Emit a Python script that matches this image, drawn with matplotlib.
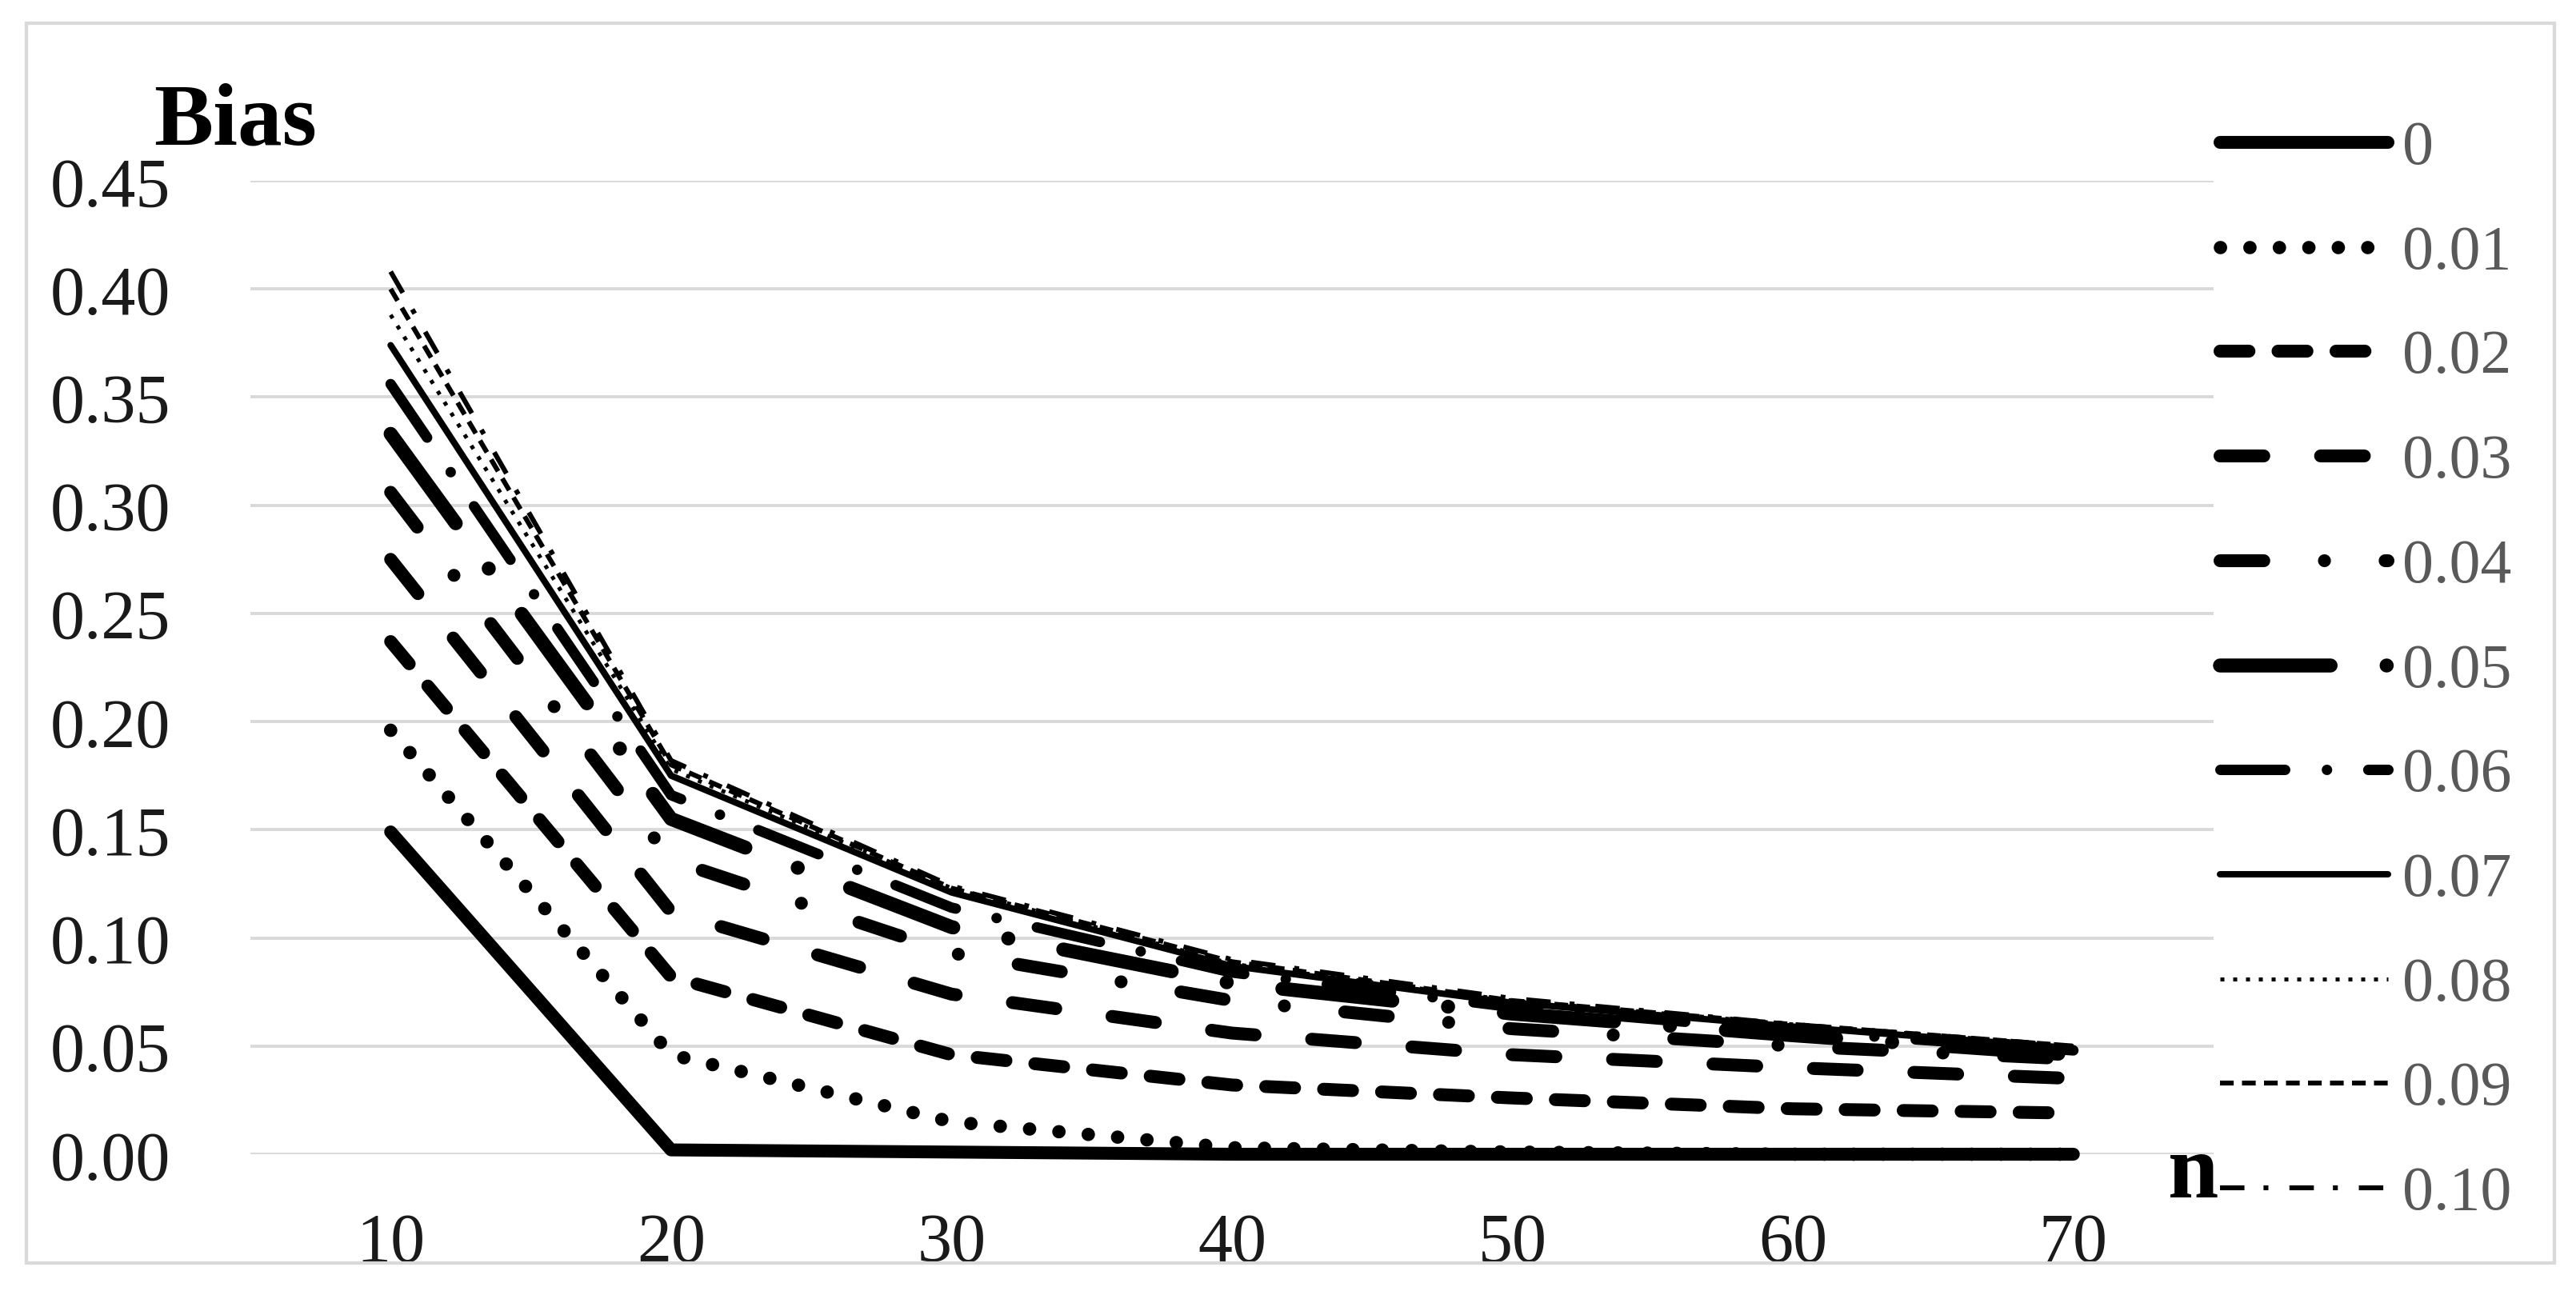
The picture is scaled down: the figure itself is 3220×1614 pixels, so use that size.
import numpy as np
import matplotlib
matplotlib.use("Agg")
import matplotlib.pyplot as plt
from matplotlib.lines import Line2D
from matplotlib.patches import Rectangle

plt.rcParams['font.family'] = ['Liberation Serif', 'DejaVu Serif']

# sample size
n_vals = [10, 20, 30, 40, 50, 60, 70]

# bias for each contamination level
bias_000 = [0.149, 0.002, 0.001, 0.000, 0.000, 0.000, 0.000]
bias_001 = [0.196, 0.046, 0.015, 0.003, 0.001, 0.000, 0.000]
bias_002 = [0.237, 0.082, 0.046, 0.032, 0.026, 0.021, 0.019]
bias_003 = [0.275, 0.112, 0.074, 0.056, 0.046, 0.040, 0.035]
bias_004 = [0.306, 0.136, 0.093, 0.071, 0.058, 0.050, 0.044]
bias_005 = [0.333, 0.155, 0.105, 0.079, 0.065, 0.055, 0.046]
bias_006 = [0.356, 0.166, 0.114, 0.084, 0.068, 0.057, 0.048]
bias_007 = [0.374, 0.175, 0.121, 0.087, 0.070, 0.059, 0.049]
bias_008 = [0.388, 0.178, 0.123, 0.088, 0.071, 0.060, 0.050]
bias_009 = [0.400, 0.180, 0.123, 0.089, 0.071, 0.060, 0.050]
bias_010 = [0.408, 0.182, 0.124, 0.090, 0.072, 0.060, 0.050]

labels = ['0', '0.01', '0.02', '0.03', '0.04', '0.05',
          '0.06', '0.07', '0.08', '0.09', '0.10']
series = [bias_000, bias_001, bias_002, bias_003, bias_004, bias_005,
          bias_006, bias_007, bias_008, bias_009, bias_010]

y_ticks = [0.00, 0.05, 0.10, 0.15, 0.20, 0.25, 0.30, 0.35, 0.40, 0.45]

# line styles: (linewidth, dashes or None, capstyle)
styles = [
    dict(lw=5.8, dashes=None, cap='round'),
    dict(lw=6.0, dashes=(0.01, 2.2), cap='round'),
    dict(lw=5.8, dashes=(2.25, 2.25), cap='round'),
    dict(lw=5.8, dashes=(3.4, 4.4), cap='round'),
    dict(lw=5.8, dashes=(3.4, 4.7, 0.01, 4.7), cap='round'),
    dict(lw=6.3, dashes=(7.9, 4.0, 0.01, 4.0), cap='round'),
    dict(lw=4.7, dashes=(6.2, 4.0, 0.01, 3.95), cap='round'),
    dict(lw=2.9, dashes=None, cap='round'),
    dict(lw=1.8, dashes=(1.0, 2.2), cap='butt'),
    dict(lw=2.2, dashes=(2.8, 1.7), cap='butt'),
    dict(lw=2.2, dashes=(5.0, 3.9, 1.0, 4.3), cap='butt'),
]

W, H = 3220, 1615
fig = plt.figure(figsize=(W / 200, H / 200), dpi=200)

# plot area in pixels
left, right, top, bottom = 313, 2767, 227, 1444
ax = fig.add_axes([left / W, 1 - bottom / H, (right - left) / W, (bottom - top) / H])


def apply_style(line, st):
    line.set_color('black')
    line.set_linewidth(st['lw'])
    line.set_solid_capstyle(st['cap'])
    line.set_dash_capstyle(st['cap'])
    line.set_solid_joinstyle('round')
    line.set_dash_joinstyle('round')
    if st['dashes'] is not None:
        line.set_dashes(st['dashes'])


for vals, st in zip(series, styles):
    ln, = ax.plot(n_vals, vals, clip_on=False, zorder=3)
    apply_style(ln, st)

ax.set_xlim(5, 75)
ax.set_ylim(0, 0.45)
ax.set_yticks(y_ticks)
ax.set_yticklabels([f'{v:.2f}' for v in y_ticks])
ax.set_xticks(n_vals)
ax.set_xticklabels([str(v) for v in n_vals])
ax.tick_params(axis='both', length=0, labelsize=31, colors='#1a1a1a')
ax.tick_params(axis='y', pad=36)
ax.tick_params(axis='x', pad=26)
ax.grid(axis='y', color='#d9d9d9', linewidth=1.4, zorder=0)
ax.grid(axis='x', visible=False)
ax.set_axisbelow(True)
for sp in ax.spines.values():
    sp.set_visible(False)

# axis titles
fig.text(192 / W, 1 - 180 / H, 'Bias', fontsize=40, fontweight='bold',
         ha='left', va='baseline')
fig.text(2710 / W, 1 - 1497 / H, 'n', fontsize=41, fontweight='bold',
         ha='left', va='baseline')

# legend on the right
x0, x1, xt = 2775 / W, 2985 / W, 3003 / W
for i, (lab, st) in enumerate(zip(labels, styles)):
    yc = 179 + i * 130.7
    yf = 1 - yc / H
    ln = Line2D([x0, x1], [yf, yf], transform=fig.transFigure)
    apply_style(ln, st)
    fig.add_artist(ln)
    fig.text(xt, 1 - (yc + 26) / H, lab, fontsize=28, color='#595959',
             ha='left', va='baseline')

# outer chart border
fig.add_artist(Rectangle((33 / W, 1 - 1580 / H), (3193 - 33) / W, (1580 - 30) / H,
                         transform=fig.transFigure, fill=False,
                         edgecolor='#d9d9d9', linewidth=1.5))

fig.savefig('out.png', dpi=200, facecolor='white')
